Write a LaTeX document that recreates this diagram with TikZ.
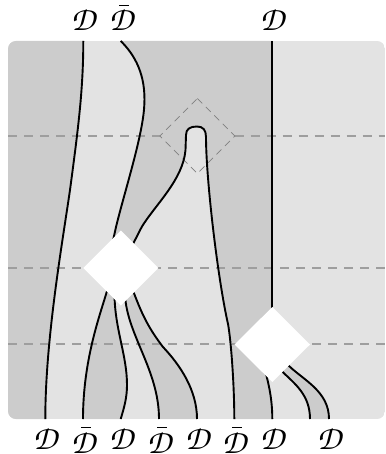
\documentclass[tikz,border=0pt]{standalone}
\newcommand{\cald}{{\fontencoding{OT1}\fontfamily{pzc}\fontseries{mb}\fontshape{it}\fontsize{34}{34}\selectfont D}}
\newcommand{\barcal}{\ooalign{\cald\cr\hidewidth\kern6pt\rule[25pt]{9.5pt}{0.7pt}\hidewidth\cr}}
\tikzset{
  strand/.style={line width=1.9pt,black},
  cut/.style={color=black!38,line width=1.3pt,dash pattern=on 9pt off 7pt},
  thincut/.style={color=black!50,line width=0.7pt,dash pattern=on 7pt off 5pt},
  lbl/.style={anchor=base,inner sep=0pt},
  patch/.style={fill=black!20},
  whitebox/.style={fill=white,draw=none}
}
\begin{document}
\begin{tikzpicture}[x=1pt,y=-1pt]
\useasboundingbox (0,0) rectangle (385,454);
\coordinate (hubA) at (120.8,268);
\coordinate (hubB) at (272,344.5);
\begin{scope}
\path[clip,rounded corners=8pt] (8,41) rectangle (385,419);
\fill[black!11] (8,41) rectangle (385,419);
\fill[patch] (8,41) -- (83.3,41) .. controls (83.3,90) and (78,130) .. (70,190) .. controls (62,245) and (45.3,340) .. (45.3,419) -- (8,419) -- cycle;
\fill[patch] (120.7,41) .. controls (135,55) and (146,75) .. (144.3,105) .. controls (143,135) and (125,190) .. (116,227) -- (112,245) -- (hubA) -- (133,244) -- (141.7,227) .. controls (155,205) and (183,180) .. (185.5,150) -- (186,135) .. controls (186,129) and (190,126.5) .. (197,126.5) .. controls (203,126.5) and (206,130) .. (206,137) .. controls (206,180) and (218,280) .. (228,324) .. controls (231,340) and (234.3,385) .. (234.3,419) -- (272.3,419) .. controls (272.3,400) and (269,385) .. (265,370) -- (hubB) -- (272,41) -- cycle;
\fill[patch] (hubA) -- (106.7,292) .. controls (100,315) and (83,360) .. (83,419) -- (120.7,419) .. controls (124,408) and (127,398) .. (127,385) .. controls (127,355) and (115,330) .. (114.5,295) -- cycle;
\fill[patch] (hubA) -- (125,295) .. controls (127,335) and (159,370) .. (159,419) -- (197,419) .. controls (197,390) and (180,365) .. (163,347) .. controls (150,330) and (143,317) .. (134.3,294) -- cycle;
\fill[patch] (hubB) -- (282.7,372) .. controls (295,384) and (310,395) .. (310,419) -- (329,419) .. controls (329,392) and (305,381) .. (289,366) -- cycle;
\draw[cut] (8,136) -- (160,136);
\draw[cut] (234.7,136) -- (385,136);
\draw[cut] (8,268) -- (385,268);
\draw[cut] (8,344) -- (385,344);
\end{scope}
\draw[thincut] (197.3,98.5) -- (234.8,136) -- (197.3,173.5) -- (159.8,136) -- cycle;
\draw[strand] (83.3,41) .. controls (83.3,90) and (78,130) .. (70,190) .. controls (62,245) and (45.3,340) .. (45.3,419);
\draw[strand] (120.7,41) .. controls (135,55) and (146,75) .. (144.3,105) .. controls (143,135) and (125,190) .. (116,227) -- (112,245) -- (hubA);
\draw[strand] (hubA) -- (133,244) -- (141.7,227) .. controls (155,205) and (183,180) .. (185.5,150) -- (186,135) .. controls (186,129) and (190,126.5) .. (197,126.5) .. controls (203,126.5) and (206,130) .. (206,137) .. controls (206,180) and (218,280) .. (228,324) .. controls (231,340) and (234.3,385) .. (234.3,419);
\draw[strand] (hubA) -- (106.7,292) .. controls (100,315) and (83,360) .. (83,419);
\draw[strand] (hubA) -- (114.5,295) .. controls (115,330) and (127,355) .. (127,385) .. controls (127,398) and (124,408) .. (120.7,419);
\draw[strand] (hubA) -- (125,295) .. controls (127,335) and (159,370) .. (159,419);
\draw[strand] (hubA) -- (134.3,294) .. controls (143,317) and (150,330) .. (163,347) .. controls (180,365) and (197,390) .. (197,419);
\draw[strand] (hubB) -- (265,370) .. controls (269,385) and (272.3,400) .. (272.3,419);
\draw[strand] (hubB) -- (282.7,372) .. controls (295,384) and (310,395) .. (310,419);
\draw[strand] (hubB) -- (289,366) .. controls (305,381) and (329,392) .. (329,419);
\draw[strand] (272,41) -- (hubB);
\fill[whitebox] (120.8,230.5) -- (158.3,268) -- (120.8,305.5) -- (83.3,268) -- cycle;
\fill[whitebox] (272.3,307) -- (310,344.5) -- (272.3,382) -- (234.6,344.5) -- cycle;
\node[lbl] (t1) at (83,31) {\cald};
\node[lbl] (t2) at (121,31) {\barcal};
\node[lbl] (t3) at (272,31) {\cald};
\node[lbl] (b1) at (45,449) {\cald};
\node[lbl] (b2) at (83,453) {\barcal};
\node[lbl] (b3) at (121,449) {\cald};
\node[lbl] (b4) at (159,453) {\barcal};
\node[lbl] (b5) at (197,449) {\cald};
\node[lbl] (b6) at (234,453) {\barcal};
\node[lbl] (b7) at (272,449) {\cald};
\node[lbl] (b8) at (329,449) {\cald};
\end{tikzpicture}
\end{document}
